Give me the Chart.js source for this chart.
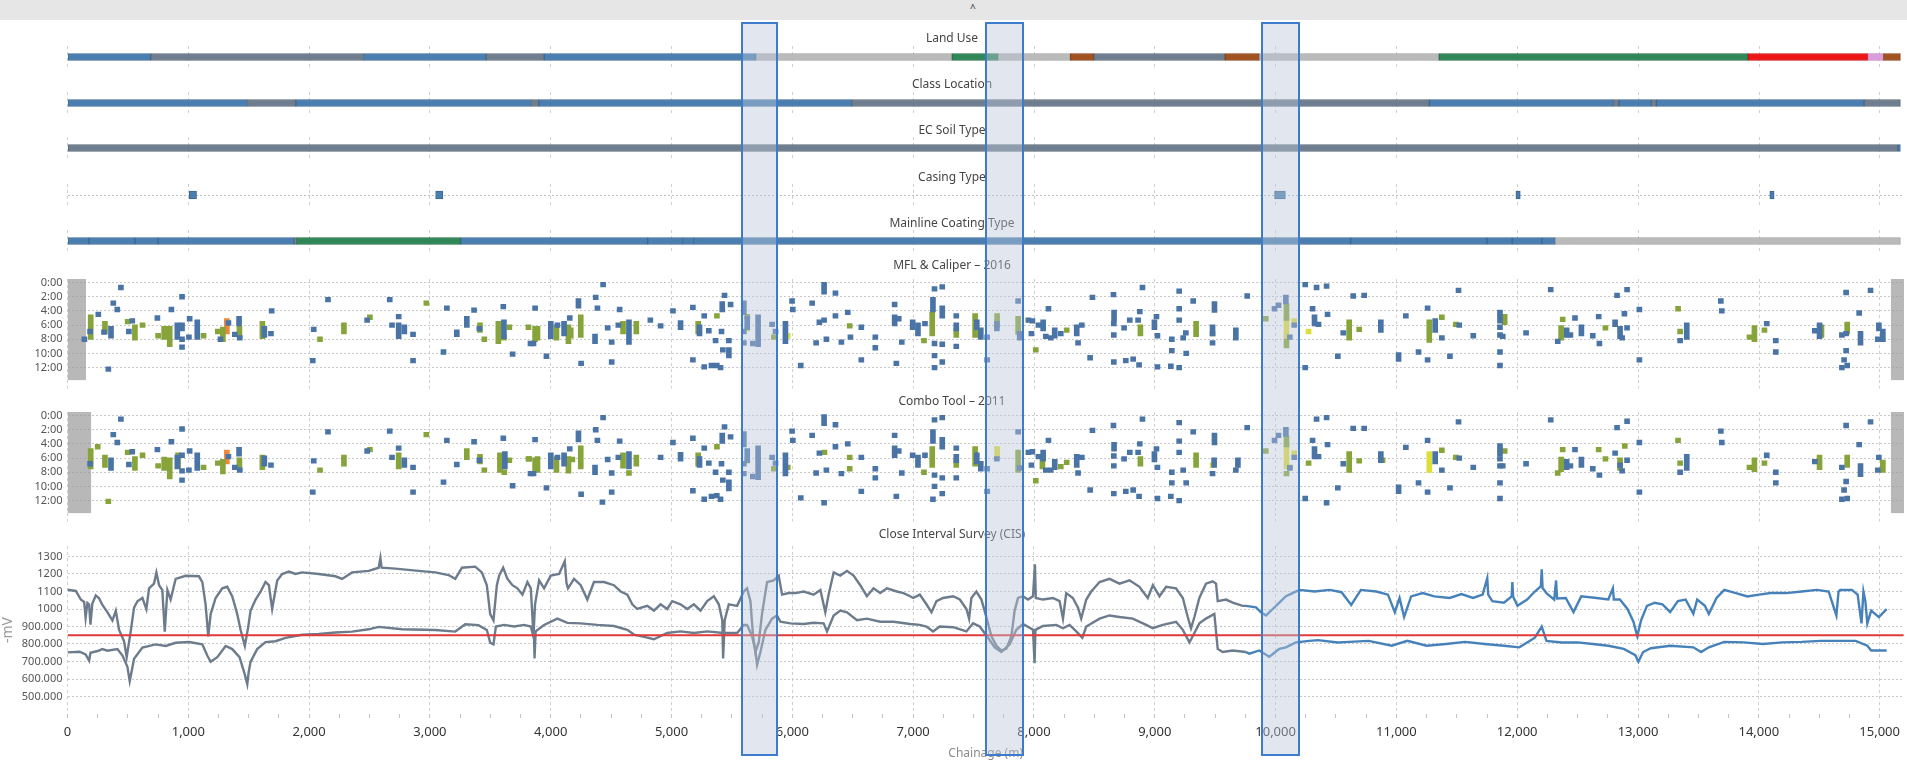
<!DOCTYPE html>
<html lang="en">
<head>
<meta charset="UTF-8">
<title>Pipeline Alignment Sheet</title>
<script src="https://cdn.jsdelivr.net/npm/chart.js"></script>
<style>
  html, body { margin: 0; padding: 0; background: #fff; }
  body { width: 1907px; height: 767px; position: relative; overflow: hidden; font-family: 'Noto Sans', sans-serif; }
  .topbar { position: absolute; left: 0; top: 0; width: 1907px; height: 20px; background: #e6e6e6; }
  .topbar span { position: absolute; left: 970px; top: 1px; font-size: 10px; color: #333; }
  canvas.panel { position: absolute; left: 0; }
  .hl { position: absolute; top: 22px; height: 734px; box-sizing: border-box; border: 2px solid #3d7bcc;
        background: rgba(185, 198, 216, 0.42); pointer-events: none; }
</style>
</head>
<body>
<div class="topbar"><span>^</span></div>
<canvas id="landUse" class="panel"></canvas>
<canvas id="classLoc" class="panel"></canvas>
<canvas id="soil" class="panel"></canvas>
<canvas id="casing" class="panel"></canvas>
<canvas id="coating" class="panel"></canvas>
<canvas id="mfl" class="panel"></canvas>
<canvas id="combo" class="panel"></canvas>
<canvas id="cis" class="panel"></canvas>

<script>
// ---- data (chainage in m) ----
const chainMax = 15200;
const chainTicks = [0, 1000, 2000, 3000, 4000, 5000, 6000, 7000, 8000, 9000, 10000, 11000, 12000, 13000, 14000, 15000];
const chainMinorStep = 250;

const landUseBreaks = [0, 690, 2450, 3465, 3945, 5700, 7320, 7705, 8300, 8495, 9580, 9865, 11350, 13910, 14900, 15030, 15170];
const landUseType = ['A', 'B', 'A', 'B', 'A', 'C', 'D', 'C', 'E', 'B', 'E', 'C', 'D', 'F', 'G', 'E'];

const classBreaks = [0, 1490, 1890, 3840, 3900, 6490, 11270, 12795, 12841, 13109, 13150, 14870, 15170];
const classType = ['A', 'B', 'A', 'B', 'A', 'B', 'A', 'B', 'A', 'B', 'A', 'B'];

const soilBreaks = [0, 15150, 15170];
const soilType = ['B', 'A'];

const casingFrom = [1008, 3047, 9990, 11988, 14089];
const casingTo = [1068, 3107, 10080, 12024, 14125];

const coatingBreaks = [0, 178, 558, 750, 1877, 1895, 3254, 4802, 5091, 5182, 10621, 11748, 11957, 12203, 12315, 15170];
const coatingType = ['A', 'A', 'A', 'A', 'B', 'D', 'A', 'A', 'A', 'A', 'A', 'A', 'A', 'A', 'C'];

// features: [chainage, clock] or [chainage, clockFrom, clockTo]
const clockTicks = [0, 2, 4, 6, 8, 10, 12];

const mflBlue = [[140,8.0],[187,6.9],[255,4.5],[302,7.0],[338,12.2],[360,6.5,7.5],[379,2.9],[412,3.8],[442,0.7],[508,6.9],[536,5.4],[744,5.0],[860,3.8],[909,6.0,7.7],[948,2.0],[948,6.0,6.5],[948,8.0],[948,9.1],[1011,5.1],[1005,7.7],[1074,5.6,7.7],[1266,8.0],[1332,5.7],[1385,7.3],[1420,5.1,5.8],[1426,7.8],[1629,6.5,7.4],[1684,7.2],[1690,4.0],[2038,6.6],[2156,2.4],[2030,11.0],[2480,5.3],[2667,2.4],[2741,4.8],[2686,6.0],[2741,6.0,7.6],[2788,6.3,6.9],[2860,7.3],[2860,11.0],[3112,9.8],[3140,3.6],[3222,7.0,7.3],[3305,5.1,6.0],[3365,3.9],[3409,6.5],[3607,3.4],[3612,5.6,7.6],[3684,10.1],[3832,8.6],[3870,3.6],
  [3857,8.6],[3964,10.4],[4000,5.8,7.6],[4055,6.0],[4110,5.8,7.2],[4157,5.0],[4229,2.6,3.3],[4251,11.4],[4372,2.1],[4386,3.6],[4433,0.3],[4366,7.6,8.3],[4471,6.4],[4504,8.4],[4504,11.2],[4570,3.8],[4559,6.0],[4647,5.6,8.4],[4824,5.3],[4909,6.1],[5011,4.0],[5074,5.7,6.3],[5176,3.5],[5176,10.9],[5231,6.3,7.2],[5270,4.7],[5270,11.9],[5308,6.8],[5330,11.7],[5374,11.7],[5405,12.0],[5413,6.9],[5364,8.2],[5419,3.0,3.8],[5438,1.8],[5488,3.1],[5474,8.2],[5424,9.5],[5474,9.5,10.3],[5598,2.9,4.2],[5598,6.9],[5598,8.5],[5626,5.1,6.3],[5672,8.6],[5716,4.9,8.7],[5832,5.9],[5860,6.9],[5942,5.8,8.3],[5997,2.6],[6003,3.8],[6069,11.7],[6163,2.9],[6196,8.5],[6223,5.6],[6262,0.3,1.3],[6262,5.3],[6281,8.0],[6356,1.5],[6356,4.7],[6405,8.4],[6458,4.2],[6480,7.7],[6570,6.3],[6570,10.9],[6686,7.7],[6686,9.2],[6846,3.1],[6846,4.9,5.8],[6860,11.4],[6880,5.1],[6905,8.4],[6995,5.6,6.3],[7039,6.0,7.2],[7097,5.8],[7163,2.4,3.8],[7176,0.9],[7240,0.6],[7240,3.6,4.7],[7176,8.6],[7176,10.3],[7176,12.0],[7240,8.7],[7240,11.2],[7356,4.7],[7356,6.0,6.5],[7356,9.0],[7526,5.6,6.3],[7559,6.7,7.7],[7612,7.7],[7612,10.9],[7692,5.8,6.5],
  [7868,2.6],[7881,7.2,7.8],[7953,5.3],[7986,5.4],[7978,7.2],[8036,6.0],[8075,5.6,6.5],[8119,3.7],[8097,7.6],[8138,7.8],[8171,6.7,7.5],[8221,7.2],[8353,6.3,7.2],[8364,8.5],[8395,6.0],[8464,10.6],[8483,2.1],[8657,1.7],[8662,4.2,5.1],[8660,5.8],[8660,7.4],[8660,11.2],[8745,6.4],[8759,11.0],[8792,5.3],[8820,10.8],[8869,11.6],[8861,5.3],[8875,4.1],[8897,0.7],[8996,5.6,6.3],[9013,4.8],[9021,7.5],[9021,11.9],[9132,11.8],[9140,8.0],[9140,9.6],[9201,1.2],[9201,3.7],[9201,5.3],[9201,12.0],[9234,7.8],[9256,7.1],[9259,10.0],[9317,2.6],[9477,6.3,7.2],[9493,3.0,3.9],[9477,8.5],[9670,6.7,7.8],[9764,1.9],[9990,3.7],[10023,3.2],[10084,2.1,2.7],[10117,7.7],[10153,6.0],[10244,0.3],[10244,12.0],[10338,0.7],[10421,0.5],[10305,3.7],[10321,4.9,5.8],[10354,5.9],[10429,4.5],[10514,10.4],[10559,7.1],[10641,1.9],[10732,1.8],[10870,5.6,6.7],[11017,10.2,10.8],[11077,4.7],[11182,9.8],[11257,3.6],[11257,10.9],[11320,5.4,6.7],[11375,7.8],[11442,10.4],[11513,1.1],[11519,6.0],[11635,7.5],
  [11856,4.2,5.4],[11856,6.3],[11856,7.4],[11879,7.6],[11856,9.8],[11856,11.7],[12072,7.1],[12276,1.0],[12334,8.3],[12408,6.7,7.4],[12439,7.4],[12477,5.0],[12530,6.3,7.2],[12624,7.5],[12679,8.6],[12673,4.8],[12809,5.6,5.9],[12825,1.8],[12908,1.0],[12886,4.4],[12850,6.5,7.6],[12867,7.8],[12908,6.4],[13010,3.8],[13010,10.9],[13347,8.2],[13402,6.0,7.7],[13684,2.6],[13692,4.0],[14064,5.8],[14139,8.2],[14139,9.8],[14462,6.8],[14501,6.0,7.6],[14686,7.4],[14721,1.4],[14721,7.2],[14721,9.6],[14704,10.9],[14686,12.0],[14730,11.7],[14829,4.3],[14840,7.2,8.5],[14923,1.1],[14992,6.0,6.5],[14983,8.0],[15025,6.9,8.0]];
const mflGreen = [[192,4.9,7.7],[310,5.8,6.9],[498,5.5],[558,6.3,7.8],[621,6.0],[750,7.5],[800,6.5,7.7],[846,6.5,8.7],[1126,7.5],[1244,6.9],[1286,6.6,8.0],[1423,6.5,7.4],[1613,5.8,7.6],[2090,8.0],[2288,6.0,6.9],[2503,4.9],[2970,2.9],[3414,6.0,6.7],[3450,8.0],[3566,5.8,8.3],[3612,7.8],[3657,6.3],[3815,6.3],[3870,6.5,8.0],
  [3890,6.5,7.8],[4047,6.3,7.8],[4146,6.3,8.3],[4165,6.7,7.5],[4248,4.9,7.4],[4598,5.8,6.9],[4708,5.8,6.9],[5220,5.8,6.9],[5375,4.7],[5626,4.8],[5846,7.7],[6474,6.1],[7089,8.2],[7157,4.5,7.2],[7356,6.7,7.4],[7512,4.7,7.4],[7694,4.7,6.0],
  [7868,5.1,7.0],[8014,9.5],[8270,6.7],[8880,6.3,7.2],[9341,5.8,7.3],[9477,7.2],[9918,5.1],[10089,3.3,5.0],[10089,8.3,8.9],[10608,5.6,7.8],[10691,6.6],[11271,5.6,8.1],[11375,4.9],[11491,5.9],
  [11895,4.8,5.6],[12362,6.4,7.8],[12375,5.2],[12729,6.4],[13330,3.7],[13347,6.9],[13921,7.7],[13962,6.4,8.0],[14045,6.7],[14517,6.3,7.4],[14730,5.9,6.9]];
const mflYellow = [[5626,6.5],[5961,7.5],[10089,5.3,7.6],[10153,5.4],[10272,6.9]];
const mflOrange = [[1319,5.4,6.9]];
const mflGutterFrom = [0, 15090];
const mflGutterTo = [153, 15200];

const comboBlue = [[187,6.8],[360,6.3,7.4],[379,2.7],[412,3.8],[442,0.5],[508,6.9],[536,5.1],[744,4.8],[860,3.7],[909,5.9,7.2],[948,1.9],[948,5.6],[948,7.8],[948,9.1],[1011,5.0],[1005,7.7],[1074,5.6,7.4],[1332,5.8],[1385,7.3],[1420,4.8,5.4],[1426,7.7],[1629,6.0,6.8],[1684,7.0],[2038,6.4],[2156,2.3],[2030,10.8],[2480,5.0],[2667,2.2],[2741,4.6],[2686,5.9],[2788,6.3,7.0],[2860,7.3],[2860,10.8],[3112,9.4],[3140,3.5],[3222,6.9],[3365,3.7],[3409,6.3],[3607,3.2],[3620,5.4,7.2],[3684,9.9],[3832,8.2],[3870,3.4],
  [3857,8.2],[3964,10.2],[4000,5.6,7.2],[4055,5.9],[4110,5.6,6.8],[4157,4.7],[4229,2.5,3.4],[4251,11.1],[4372,2.0],[4386,3.5],[4433,0.3],[4366,7.3,8.0],[4471,6.2],[4504,8.1],[4504,10.8],[4427,12.2],[4570,3.6],[4559,5.9],[4647,5.4,7.2],[4909,5.9],[5011,3.8],[5074,5.5,6.1],[5176,3.2],[5176,10.6],[5231,6.1,7.0],[5270,4.6],[5270,11.8],[5308,6.7],[5330,11.4],[5374,11.3],[5405,11.8],[5413,6.8],[5364,8.0],[5419,2.8,3.6],[5438,1.6],[5488,3.0],[5474,8.0],[5424,9.1],[5474,9.4,10.3],[5598,2.6,4.1],[5598,6.8],[5598,8.2],[5626,5.0,6.3],[5672,8.6],[5716,4.6,8.7],[5832,5.9],[5860,6.7],[5942,5.6,8.2],[5997,2.2],[6003,3.5],[6069,11.6],[6163,2.8],[6196,8.1],[6223,5.3],[6262,0.2,1.1],[6281,7.7],[6262,12.3],[6356,1.3],[6356,4.4],[6405,8.2],[6458,4.0],[6570,5.9],[6570,10.7],[6686,7.5],[6686,8.8],[6846,2.8],[6846,4.6,5.6],[6860,11.4],[6880,5.0],[6905,8.1],[6995,5.6],[7039,5.9,7.0],[7097,5.6],[7163,2.3,3.6],[7176,0.6],[7240,0.3],[7240,3.4,4.4],[7176,8.4],[7176,10.0],[7163,11.8],[7240,8.8],[7240,11.0],[7356,4.6],[7356,5.8,6.3],[7356,8.8],[7526,5.6,6.5],[7559,6.8,7.5],[7612,7.5],[7612,10.7],[7692,6.1],
  [7868,2.3],[7881,7.4],[7953,5.2],[7986,5.1],[7978,7.0],[8036,5.8],[8075,5.2,6.1],[8119,3.5],[8097,7.7],[8138,7.7],[8171,6.5,7.3],[8353,5.8,7.0],[8364,8.1],[8395,5.9],[8464,10.5],[8483,2.1],[8657,1.4],[8662,4.1,4.7],[8660,5.7],[8660,7.1],[8660,11.0],[8745,6.1],[8759,10.7],[8792,5.2],[8820,10.5],[8869,11.4],[8861,5.2],[8875,4.0],[8897,0.5],[8996,5.4,6.2],[9013,4.7],[9021,7.3],[9021,11.7],[9132,11.4],[9140,8.0],[9140,9.5],[9201,1.0],[9201,3.6],[9201,5.2],[9201,12.0],[9234,7.7],[9259,9.5],[9317,2.3],[9493,2.8,3.8],[9490,6.3,7.0],[9477,8.2],[9687,6.3,7.0],[9670,7.7],[9764,1.7],[9990,3.5],[10023,2.8],[10084,2.0,2.6],[10117,7.4],[10153,5.9],[10244,11.7],[10338,0.5],[10421,0.3],[10421,12.3],[10305,3.5],[10321,4.7,5.8],[10354,5.8],[10429,4.1],[10514,10.2],[10559,6.8],[10641,1.8],[10732,1.8],[10870,5.4,6.3],[11017,10.1,10.7],[11077,4.5],[11182,9.5],[11257,3.5],[11257,10.8],[11320,5.4,6.5],[11375,7.7],[11442,10.2],[11513,0.9],[11519,6.0],[11635,7.3],
  [11856,4.3,5.4],[11856,6.1],[11856,7.1],[11879,7.1],[11856,9.5],[11856,11.7],[12072,6.8],[12276,0.6],[12408,6.5,7.3],[12439,7.1],[12477,4.8],[12530,6.2,7.0],[12624,7.5],[12679,8.4],[12809,5.3],[12825,1.7],[12908,0.8],[12850,7.0],[12867,7.8],[12908,6.3],[13010,3.8],[13010,10.8],[13347,8.0],[13402,5.8,7.4],[13684,2.2],[13692,3.8],[14064,5.6],[14139,8.0],[14139,9.5],[14462,6.5],[14686,7.3],[14721,1.4],[14721,9.3],[14704,10.5],[14686,11.8],[14730,11.7],[14829,4.1],[14840,7.1,8.3],[14923,0.9],[14992,5.9],[14983,7.7]];
const comboGreen = [[192,5.0,7.2],[250,4.4],[310,5.9,7.0],[338,12.1],[498,5.2],[558,6.1,7.4],[621,5.6],[750,7.1],[800,6.2,7.4],[846,6.3,8.6],[915,5.6,7.1],[1126,7.3],[1244,6.7],[1286,6.5,7.9],[1423,6.3,7.4],[1613,5.9,7.3],[2090,7.7],[2288,5.9,6.8],[2503,4.8],[2970,2.7],[2741,5.6,7.2],[3305,5.0,5.9],[3414,5.8,6.5],[3450,7.7],[3579,5.6,7.7],[3615,8.0],[3657,6.3],[3815,6.1],[3870,6.3,7.7],
  [3821,6.1],[3890,6.1,7.7],[4047,6.1,7.7],[4146,6.1,7.8],[4179,6.2],[4248,4.6,7.2],[4598,5.6,7.1],[4647,8.1],[4708,5.9,6.8],[5220,5.6,6.8],[5375,4.4],[5846,7.5],[5961,7.3],[6265,5.2],[6474,5.9],[6474,7.5],[7089,8.0],[7157,4.7,7.0],[7356,6.5,7.0],[7512,4.7,6.8],
  [7868,5.2,7.7],[8014,9.2],[8069,6.5,7.2],[8221,7.2],[8270,6.6],[8880,6.1,6.8],[9341,5.6,7.0],[9918,5.0],[10089,3.2,4.1],[10089,8.2],[10117,7.3],[10272,6.7],[10608,5.4,7.7],[10691,6.4],[10884,6.3],[11375,4.9],[11491,5.9],
  [11895,5.0],[12334,8.1],[12362,6.2,7.6],[12375,4.8],[12673,4.8],[12729,6.1],[12889,4.3],[12850,6.3,7.4],[13330,3.5],[13347,6.7],[13921,7.3],[13962,6.3,7.6],[14045,6.7],[14501,5.9,7.3],[14730,5.9,7.0],[15025,6.6,7.7]];
const comboYellow = [[5626,6.4],[5716,5.9],[7694,4.7,5.6],[9477,7.0],[10089,4.4,7.2],[10153,5.3],[11271,5.4,7.7]];
const comboOrange = [[1319,5.2,6.5]];
const comboGutterFrom = [0, 15090];
const comboGutterTo = [197, 15200];

// CIS potentials: [chainage, -mV]
const cisTicks = [500, 600, 700, 800, 900, 1000, 1100, 1200, 1300];
const criterionMv = 850;
const cisOnGrey = [[0,1110],[69,1103],[110,1054],[138,1040],[150,950],[165,1035],[179,1026],[190,910],[205,1030],[234,1077],[260,1063],[289,1023],[331,981],[372,935],[400,990],[427,880],[468,816],[490,725],[496,752],[523,871],[551,1008],[579,1044],[620,1063],[653,999],[675,1118],[716,1145],[736,1209],[758,1136],[785,1108],[805,871],[827,1108],[854,1054],[895,1172],[978,1190],[1088,1187],[1116,1154],[1143,1026],[1165,844],[1185,971],[1226,1063],[1281,1118],[1322,1127],[1364,1072],[1405,971],[1433,880],[1468,789],[1496,898],[1515,990],[1557,1054],[1598,1099],[1639,1154],[1667,1136],[1694,1000],[1710,1063],[1736,1163],[1777,1200],[1832,1214],[1887,1200],[1942,1209],[2080,1200],[2218,1187],[2273,1172],[2356,1209],[2493,1218],[2576,1236],[2590,1291],[2600,1236],[2714,1231],[2906,1218],[3044,1209],[3154,1194],[3210,1172],[3265,1236],[3375,1242],[3430,1209],[3471,1136],[3499,971],[3526,935],[3554,1136],[3573,1191],[3606,1236],[3642,1172],[3683,1136],[3724,1118],[3766,1082],[3807,1154],[3835,1118],[3850,936],[3857,845],[3870,1027],[3904,1164],[3945,1118],[4000,1191],[4069,1200],[4116,1273],[4130,1150],[4143,1118],[4193,1172],[4248,1136],[4303,1054],[4358,1154],[4441,1154],[4523,1136],[4579,1100],[4634,1082],[4675,1027],[4716,1000],[4799,1018],[4854,991],[4909,1027],[4964,1000],[5006,1045],[5074,1027],[5130,1000],[5185,1027],[5240,991],[5295,1045],[5350,1073],[5391,1027],[5420,936],[5427,718],[5440,936],[5474,1027],[5543,1018],[5598,1100],[5625,1118],[5653,1045],[5675,845],[5694,754],[5722,809],[5749,972],[5791,1154],[5846,1164],[5887,1191],[5915,1082],[5970,1091],[6025,1091],[6094,1100],[6176,1082],[6232,1109],[6273,981],[6300,1082],[6342,1209],[6397,1191],[6452,1218],[6507,1191],[6562,1136],[6617,1073],[6672,1118],[6727,1091],[6783,1118],[6865,1100],[6920,1091],[6975,1073],[7000,1063],[7055,1082],[7110,1027],[7152,981],[7193,1045],[7248,1063],[7331,1073],[7386,1054],[7441,1000],[7463,945],[7482,1063],[7523,1100],[7565,1054],[7606,954],[7647,845],[7689,790],[7730,763],[7771,772],[7813,845],[7840,991],[7868,1063],[7909,1073],[7950,1054],[7992,1073],[8008,1255],[8015,1063],[8074,1054],[8157,1063],[8212,1045],[8240,945],[8267,1091],[8322,1063],[8364,1009],[8391,945],[8433,1054],[8474,1100],[8543,1154],[8625,1172],[8708,1145],[8791,1164],[8873,1127],[8942,1063],[8984,1136],[9039,1073],[9094,1127],[9176,1118],[9232,1063],[9273,954],[9300,890],[9328,954],[9369,1063],[9424,1145],[9479,1158],[9507,1145],[9521,1045],[9590,1054],[9645,1036],[9728,1018],[9755,1018]];
const cisOnBlue = [[9755,1018],[9838,1009],[9879,981],[9921,963],[9976,1000],[10031,1036],[10086,1073],[10141,1091],[10196,1109],[10322,1100],[10450,1109],[10546,1096],[10626,1023],[10706,1109],[10834,1100],[10930,1082],[10987,982],[11026,1063],[11064,954],[11122,1072],[11218,1091],[11314,1072],[11442,1063],[11538,1085],[11634,1063],[11714,1082],[11752,1176],[11760,1082],[11794,1045],[11890,1036],[11954,1072],[11960,1154],[11966,1072],[12002,1018],[12082,1054],[12146,1100],[12196,1130],[12203,1227],[12210,1120],[12242,1091],[12306,1054],[12322,1163],[12330,1060],[12402,1063],[12466,982],[12530,1072],[12658,1063],[12754,1054],[12792,1118],[12800,1054],[12850,1054],[12914,999],[12962,927],[12994,845],[13026,936],[13074,1018],[13138,1036],[13202,1027],[13266,982],[13330,1045],[13394,1054],[13458,972],[13490,1054],[13554,1018],[13586,972],[13650,1063],[13714,1109],[13810,1091],[13906,1072],[14002,1082],[14098,1091],[14226,1091],[14354,1100],[14482,1109],[14578,1100],[14642,963],[14660,1100],[14674,1109],[14770,1109],[14818,1082],[14850,918],[14866,1100],[14882,1045],[14898,918],[14930,991],[14994,954],[15058,999]];
const cisOffGrey = [[0,752],[100,756],[150,740],[179,705],[190,750],[250,760],[289,771],[330,762],[413,771],[455,734],[496,670],[515,588],[530,640],[551,716],[620,780],[730,798],[813,789],[895,807],[1006,811],[1116,798],[1157,734],[1185,698],[1240,725],[1309,789],[1364,771],[1424,725],[1468,625],[1488,570],[1500,640],[1515,698],[1570,771],[1639,811],[1722,816],[1804,835],[1942,853],[2080,858],[2218,866],[2356,871],[2493,884],[2576,898],[2769,884],[3044,880],[3210,871],[3292,913],[3402,908],[3471,880],[3499,807],[3526,798],[3546,900],[3614,909],[3697,900],[3780,909],[3835,900],[3862,827],[3866,718],[3875,872],[3945,909],[4055,945],[4138,921],[4248,918],[4386,909],[4523,903],[4634,881],[4689,854],[4799,836],[4854,827],[4964,863],[5074,872],[5185,863],[5295,872],[5432,863],[5543,863],[5598,909],[5625,909],[5667,845],[5694,763],[5708,681],[5736,754],[5777,881],[5832,945],[5873,963],[5901,927],[5984,918],[6094,914],[6176,921],[6259,918],[6287,872],[6342,963],[6397,991],[6452,981],[6535,936],[6617,945],[6727,927],[6838,927],[6975,914],[7055,909],[7110,900],[7165,872],[7220,900],[7331,896],[7441,872],[7496,918],[7551,900],[7620,836],[7675,781],[7730,754],[7799,799],[7854,881],[7909,914],[7992,881],[8005,690],[8012,881],[8074,903],[8185,909],[8240,890],[8295,909],[8350,872],[8400,836],[8433,900],[8543,945],[8625,963],[8708,954],[8818,945],[8929,909],[8984,890],[9066,909],[9176,927],[9232,881],[9287,809],[9328,863],[9369,918],[9424,945],[9493,972],[9521,772],[9562,754],[9645,763],[9755,754]];
const cisOffBlue = [[9755,754],[9783,745],[9865,763],[9948,727],[10031,772],[10086,781],[10168,809],[10279,818],[10350,822],[10514,809],[10610,812],[10770,818],[10962,790],[11090,818],[11250,790],[11410,800],[11570,812],[11730,800],[11890,790],[12018,781],[12146,836],[12203,900],[12242,818],[12370,809],[12498,809],[12626,800],[12754,790],[12882,772],[12978,736],[13003,699],[13042,754],[13106,776],[13266,790],[13458,781],[13522,754],[13586,781],[13714,812],[13874,809],[14034,800],[14194,809],[14354,812],[14514,818],[14674,818],[14802,818],[14898,790],[14930,763],[14994,763],[15058,763]];

// areas of interest
const highlightFrom = [5571, 7594, 9879];
const highlightTo = [5883, 7916, 10201];

// ---- styling ----
const bandFill = { A: '#4a7eb0', B: '#6e7e8e', C: '#bababa', D: '#2f8757', E: '#a2521f', F: '#ee1515', G: '#dc9ddc' };
const bandEdge = { A: '#3b6892', B: '#5a6875', C: '#a2a2a2', D: '#236b44', E: '#853f16', F: '#c80c0c', G: '#c283c2' };
const featBlue = '#4a73a6', featGreen = '#86a43a', featYellow = '#dede3a', featOrange = '#ef873a';
const lineGrey = '#6d7c8c', lineBlue = '#4682b9';

Chart.defaults.font.family = "'Noto Sans', 'DejaVu Sans', sans-serif";
Chart.defaults.color = '#555';
Chart.defaults.animation = false;
Chart.defaults.plugins.legend.display = false;
Chart.defaults.plugins.tooltip.enabled = false;

const AREA_LEFT = 67.5;
const fitLeft = s => { s.width = AREA_LEFT; };
const majorTicks = s => { s.ticks = chainTicks.map(v => ({ value: v })); };
const minorTicks = s => {
  const t = [];
  for (let v = 0; v <= chainTicks[chainTicks.length - 1]; v += chainMinorStep) t.push({ value: v });
  s.ticks = t;
};

function prepCanvas(id, top, height) {
  const cv = document.getElementById(id);
  cv.width = 1907;
  cv.height = height;
  cv.style.top = top + 'px';
  return cv;
}

function panelTitle(text, gap) {
  return { display: true, text: text, color: '#454545',
           font: { size: 12, weight: 'normal', lineHeight: '14px' }, padding: { top: 0, bottom: gap } };
}

function chainX(tickLen) {
  return {
    type: 'linear', min: 0, max: chainMax, offset: false,
    afterBuildTicks: majorTicks,
    ticks: { display: false },
    grid: { color: '#d0d0d0', offset: false, drawTicks: tickLen > 0, tickLength: tickLen, tickColor: '#d0d0d0', tickBorderDash: [3, 3] },
    border: { display: false, dash: [3, 3] }
  };
}

function segData(breaks, types) {
  return types.map((t, i) => ({ x: [breaks[i], breaks[i + 1]], y: 0 }));
}

function bandChart(id, title, titleY, barY, data, fills, edges, thick, centreLine) {
  const top = titleY - 7;
  const cv = prepCanvas(id, top, barY + 11 - top);
  return new Chart(cv, {
    type: 'bar',
    data: { datasets: [{ data: data, backgroundColor: fills, borderColor: edges, borderWidth: 1,
                         borderSkipped: false, barThickness: thick, grouped: false }] },
    options: {
      indexAxis: 'y', responsive: false,
      layout: { padding: { left: 0, right: 3, top: 0, bottom: 0 } },
      plugins: { title: panelTitle(title, barY - 11 - (titleY + 7)) },
      scales: {
        x: chainX(0),
        y: { type: 'linear', min: -1, max: 1, offset: false, afterFit: fitLeft,
             ticks: { display: false, stepSize: 1 },
             grid: { display: !!centreLine, drawTicks: false, offset: false,
                     color: c => (c.tick && c.tick.value === 0) ? '#bdbdbd' : 'rgba(0,0,0,0)' },
             border: { display: false, dash: [2, 2] } }
      }
    }
  });
}

function toBars(list) {
  return list.map(p => ({ x: p[0], y: [p[1] - 0.33, (p.length > 2 ? p[2] : p[1]) + 0.33] }));
}

function featureChart(id, title, titleY, areaTop, blue, green, yellow, orange, gFrom, gTo) {
  const top = titleY - 7;
  const areaH = 105;
  const cv = prepCanvas(id, top, (areaTop - top) + areaH + 8);
  const bars = (list, col) => ({ type: 'bar', data: toBars(list), backgroundColor: col, barThickness: 5, grouped: false, order: 1 });
  const gutters = gFrom.map((a, i) => ({
    type: 'line', data: [{ x: a, y: 13.8 }, { x: gTo[i], y: 13.8 }], fill: { value: -0.5 },
    backgroundColor: 'rgba(150,150,150,0.68)', borderWidth: 0, pointRadius: 0, order: 10
  }));
  return new Chart(cv, {
    type: 'bar',
    data: { datasets: gutters.concat([bars(blue, featBlue), bars(green, featGreen), bars(yellow, featYellow), bars(orange, featOrange)]) },
    options: {
      responsive: false,
      layout: { padding: { left: 0, right: 3, top: 0, bottom: 0 } },
      plugins: { title: panelTitle(title, areaTop - (titleY + 7)) },
      scales: {
        x: chainX(8),
        y: { type: 'linear', reverse: true, min: -0.5, max: 13.8, afterFit: fitLeft,
             afterBuildTicks: s => { s.ticks = clockTicks.map(v => ({ value: v })); },
             ticks: { callback: v => v + ':00', font: { size: 11 }, color: '#555', padding: 5 },
             grid: { color: '#c9c9c9', drawTicks: false },
             border: { display: false, dash: [2, 2] } }
      }
    }
  });
}

// ---- band panels ----
bandChart('landUse', 'Land Use', 39, 57, segData(landUseBreaks, landUseType),
  landUseType.map(t => bandFill[t]), landUseType.map(t => bandEdge[t]), 7);
bandChart('classLoc', 'Class Location', 85, 103, segData(classBreaks, classType),
  classType.map(t => bandFill[t]), classType.map(t => bandEdge[t]), 7);
bandChart('soil', 'EC Soil Type', 131, 148, segData(soilBreaks, soilType),
  soilType.map(t => bandFill[t]), soilType.map(t => bandEdge[t]), 7);
bandChart('casing', 'Casing Type', 178, 195, casingFrom.map((a, i) => ({ x: [a, casingTo[i]], y: 0 })),
  bandFill.A, bandEdge.A, 8, true);
bandChart('coating', 'Mainline Coating Type', 224, 241, segData(coatingBreaks, coatingType),
  coatingType.map(t => bandFill[t]), coatingType.map(t => bandEdge[t]), 7);

// ---- ILI panels ----
featureChart('mfl', 'MFL & Caliper \u2013 2016', 266, 279, mflBlue, mflGreen, mflYellow, mflOrange, mflGutterFrom, mflGutterTo);
featureChart('combo', 'Combo Tool \u2013 2011', 402, 412, comboBlue, comboGreen, comboYellow, comboOrange, comboGutterFrom, comboGutterTo);

// ---- CIS panel ----
const pts = list => list.map(p => ({ x: p[0], y: p[1] }));
const cisLine = (list, col) => ({ data: pts(list), borderColor: col, borderWidth: 2.4, pointRadius: 0, tension: 0 });
const cisTop = 528, cisAreaTop = 546, cisAreaH = 175;
const cisCanvas = prepCanvas('cis', cisTop, (cisAreaTop - cisTop) + cisAreaH + 40);
const cis = new Chart(cisCanvas, {
  type: 'line',
  data: {
    datasets: [
      { data: [{ x: 0, y: criterionMv }, { x: chainMax, y: criterionMv }], borderColor: '#e03a3a', borderWidth: 2, pointRadius: 0, order: 0 },
      Object.assign(cisLine(cisOnGrey, lineGrey), { order: 2 }),
      Object.assign(cisLine(cisOffGrey, lineGrey), { order: 2 }),
      Object.assign(cisLine(cisOnBlue, lineBlue), { order: 1 }),
      Object.assign(cisLine(cisOffBlue, lineBlue), { order: 1 })
    ]
  },
  options: {
    responsive: false,
    layout: { padding: { left: 0, right: 3, top: 0, bottom: 0 } },
    plugins: { title: panelTitle('Close Interval Survey (CIS)', cisAreaTop - (cisTop + 14)) },
    scales: {
      x: {
        type: 'linear', min: 0, max: chainMax, offset: false,
        afterBuildTicks: minorTicks,
        ticks: { autoSkip: false, maxRotation: 0, padding: 7, color: '#333', font: { size: 13, lineHeight: '15px' },
                 callback: v => (v % 1000 === 0) ? v.toLocaleString('en-US') : '' },
        grid: { offset: false, tickLength: 4, tickColor: '#c4c4c4',
                color: c => (c.tick && c.tick.value % 1000 === 0) ? '#d0d0d0' : 'rgba(0,0,0,0)' },
        border: { display: false, dash: [3, 3] },
        title: { display: true, text: 'Chainage (m)', color: '#8a8a8a', font: { size: 12, lineHeight: '14px' }, padding: 0 }
      },
      y: {
        type: 'linear', min: 400, max: 1360, afterFit: fitLeft,
        afterBuildTicks: s => { s.ticks = cisTicks.map(v => ({ value: v })); },
        ticks: { font: { size: 11 }, color: '#555', padding: 5,
                 callback: v => v >= 1000 ? String(v) : v.toFixed(3) },
        grid: { color: '#c9c9c9', drawTicks: false },
        border: { display: false, dash: [2, 2] },
        title: { display: true, text: '-mV', color: '#9a9a9a', font: { size: 14, lineHeight: '16px' }, padding: { top: 0, bottom: 0 } }
      }
    }
  }
});

// ---- highlighted zones across all panels ----
const xs = cis.scales.x;
highlightFrom.forEach((a, i) => {
  const l = xs.getPixelForValue(a), r = xs.getPixelForValue(highlightTo[i]);
  const d = document.createElement('div');
  d.className = 'hl';
  d.style.left = l + 'px';
  d.style.width = (r - l) + 'px';
  document.body.appendChild(d);
});
</script>
</body>
</html>
